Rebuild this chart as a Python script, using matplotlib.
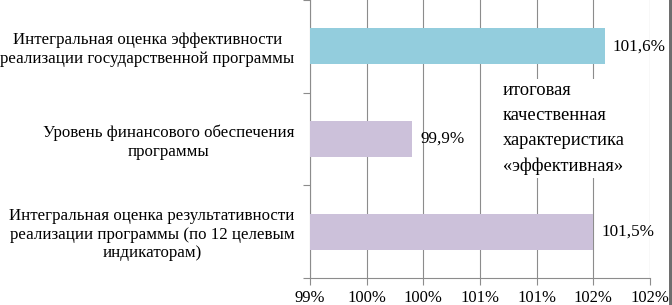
import matplotlib
matplotlib.use("Agg")
import matplotlib.pyplot as plt
import numpy as np
from matplotlib.patches import Rectangle

plt.rcParams['font.family'] = ['Liberation Serif', 'DejaVu Serif']

# Data (bottom to top)
categories = [
    "Интегральная оценка результативности\nреализации программы (по 12 целевым\nиндикаторам)",
    "Уровень финансового обеспечения\nпрограммы",
    "Интегральная оценка эффективности\nреализации государственной программы",
]
values = [101.5, 99.9, 101.6]
value_labels = ["101,5%", "99,9%", "101,6%"]
bar_colors = ["#CCC1DA", "#CCC1DA", "#93CDDD"]
x_ticks = [99.0, 99.5, 100.0, 100.5, 101.0, 101.5, 102.0]
x_tick_labels = ["99%", "100%", "100%", "101%", "101%", "102%", "102%"]
note_text = "итоговая\nкачественная\nхарактеристика\n«эффективная»"

W, H = 672, 305
fig = plt.figure(figsize=(W / 100, H / 100), dpi=100)
ax = fig.add_axes([310 / W, (H - 278) / H, 340 / W, 278 / H])

y = np.arange(len(categories))
ax.barh(y, values, height=0.39, color=bar_colors, zorder=3)
ax.set_xlim(99, 102)
ax.set_ylim(-0.5, 2.5)

ax.set_xticks(x_ticks)
ax.set_xticklabels(x_tick_labels, fontsize=12)
ax.set_yticks(y)
ax.set_yticklabels(categories, fontsize=12.2, multialignment='center')
ax.tick_params(axis='y', length=0, pad=11)
ax.set_yticks([-0.5, 0.5, 1.5, 2.5], minor=True)
ax.tick_params(axis='y', which='minor', length=5, color='#8c8c8c', width=0.8)
ax.tick_params(axis='x', length=5, color='#8c8c8c', width=0.8, pad=4)

ax.grid(axis='x', color='#8c8c8c', linewidth=0.8, zorder=0)
for s in ['top', 'right']:
    ax.spines[s].set_visible(False)
for s in ['left', 'bottom']:
    ax.spines[s].set_color('#8c8c8c')
    ax.spines[s].set_linewidth(0.8)

for yi, v, lab in zip(y, values, value_labels):
    ax.annotate(lab, xy=(v, yi), xytext=(6, 0), textcoords='offset points',
                va='center', ha='left', fontsize=12.3, zorder=5)

ax.text((503 - 310) / 340, 1 - 82 / 278, note_text, transform=ax.transAxes,
        ha='left', va='top', fontsize=13.3, linespacing=1.62, zorder=6,
        bbox=dict(facecolor='white', edgecolor='none', pad=2))

fig.patches.append(Rectangle((669 / W, 0), 3 / W, 1, transform=fig.transFigure,
                             facecolor='#6e6e6e', edgecolor='none', zorder=10))

fig.savefig("out.png", dpi=100)
